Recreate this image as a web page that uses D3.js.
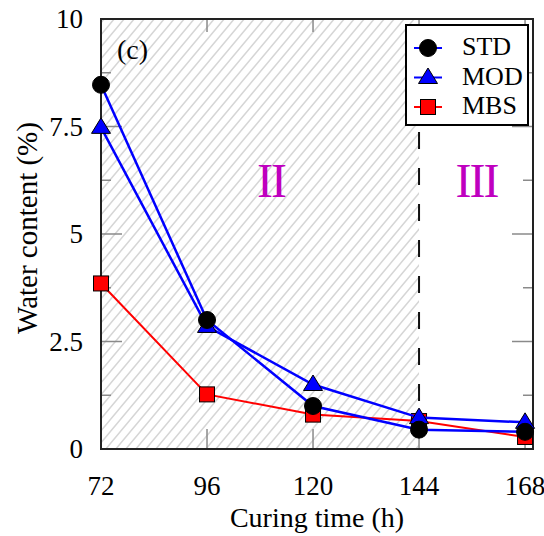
<!DOCTYPE html>
<html>
<head>
<meta charset="utf-8">
<script src="https://cdn.jsdelivr.net/npm/d3@7"></script>
<style>
	body { margin: 0; background: #fff; }
	text { font-family: "Liberation Serif", "Times New Roman", serif; }
</style>
</head>
<body>
<svg id="chart"></svg>
<script>
// data
var hours = [72, 96, 120, 144, 168];
var stdValues = [8.47, 3.0, 1.0, 0.45, 0.4];
var modValues = [7.48, 2.85, 1.5, 0.73, 0.62];
var mbsValues = [3.85, 1.27, 0.8, 0.65, 0.28];
var seriesNames = ["STD", "MOD", "MBS"];
var xTicks = [72, 96, 120, 144, 168];
var yTicks = [0, 2.5, 5, 7.5, 10];
var yTickLabels = ["0", "2.5", "5", "7.5", "10"];
var yMinorTicks = [1.25, 3.75, 6.25, 8.75];
var stageBounds = [72, 144];

var width = 544, height = 536;
var margins = {"top": 19, "right": 11, "bottom": 87, "left": 101};

var svg = d3.select("#chart")
	.attr("width", width)
	.attr("height", height);

var x = d3.scaleLinear()
	.domain([72, 169.8])
	.range([margins.left, width - margins.right]);
var y = d3.scaleLinear()
	.domain([0, 10])
	.range([height - margins.bottom, margins.top]);

var x0 = x.range()[0], x1 = x.range()[1];
var y0 = y.range()[0], y1 = y.range()[1];

// hatch pattern for stage II
var defs = svg.append("defs");
var pat = defs.append("pattern")
	.attr("id", "hatch")
	.attr("patternUnits", "userSpaceOnUse")
	.attr("width", 10)
	.attr("height", 12);
pat.append("path")
	.attr("d", "M-2.5,3 L2.5,-3 M0,12 L10,0 M7.5,15 L12.5,9")
	.attr("stroke", "#d6d6d6")
	.attr("stroke-width", 1.5);

svg.append("rect")
	.attr("x", x(stageBounds[0]))
	.attr("y", y1)
	.attr("width", x(stageBounds[1]) - x(stageBounds[0]))
	.attr("height", y0 - y1)
	.attr("fill", "url(#hatch)");

// ticks (inward, all four sides)
var tickColor = "#8a8a8a";
var gTicks = svg.append("g").attr("stroke", tickColor).attr("stroke-width", 1.5);
xTicks.forEach(function(t){
	gTicks.append("line").attr("x1", x(t)).attr("x2", x(t)).attr("y1", y0).attr("y2", y0 - 20);
	gTicks.append("line").attr("x1", x(t)).attr("x2", x(t)).attr("y1", y1).attr("y2", y1 + 13);
});
yTicks.forEach(function(t){
	gTicks.append("line").attr("x1", x0).attr("x2", x0 + 21).attr("y1", y(t)).attr("y2", y(t));
	gTicks.append("line").attr("x1", x1).attr("x2", x1 - 21).attr("y1", y(t)).attr("y2", y(t));
});
yMinorTicks.forEach(function(t){
	gTicks.append("line").attr("x1", x0).attr("x2", x0 + 10).attr("y1", y(t)).attr("y2", y(t));
	gTicks.append("line").attr("x1", x1).attr("x2", x1 - 10).attr("y1", y(t)).attr("y2", y(t));
});

// stage boundary
svg.append("line")
	.attr("x1", x(stageBounds[1])).attr("x2", x(stageBounds[1]))
	.attr("y1", y1).attr("y2", y0)
	.attr("stroke", "#111")
	.attr("stroke-width", 2)
	.attr("stroke-dasharray", "17,19")
	.attr("stroke-dashoffset", -5);

// frame
svg.append("rect")
	.attr("x", x0).attr("y", y1)
	.attr("width", x1 - x0).attr("height", y0 - y1)
	.attr("fill", "none")
	.attr("stroke", "#222")
	.attr("stroke-width", 2);

// tick labels
svg.append("g").selectAll("text")
	.data(xTicks)
	.enter().append("text")
	.attr("x", function(d){ return x(d); })
	.attr("y", y0 + 46)
	.attr("text-anchor", "middle")
	.attr("font-size", "27px")
	.text(function(d){ return d; });

svg.append("g").selectAll("text")
	.data(yTicks)
	.enter().append("text")
	.attr("x", x0 - 18)
	.attr("y", function(d){ return y(d) + 9; })
	.attr("text-anchor", "end")
	.attr("font-size", "27px")
	.text(function(d, i){ return yTickLabels[i]; });

// axis titles
svg.append("text")
	.attr("x", (x0 + x1) / 2)
	.attr("y", 527)
	.attr("text-anchor", "middle")
	.attr("font-size", "28px")
	.text("Curing time (h)");

svg.append("text")
	.attr("transform", "translate(37," + 228 + ") rotate(-90)")
	.attr("text-anchor", "middle")
	.attr("font-size", "29px")
	.text("Water content (%)");

svg.append("text")
	.attr("x", x0 + 16)
	.attr("y", 59)
	.attr("font-size", "28px")
	.text("(c)");

// stage labels
svg.append("text")
	.attr("x", x(110.5)).attr("y", y(5.86))
	.attr("text-anchor", "middle")
	.attr("font-size", "48px")
	.attr("letter-spacing", "-2px")
	.attr("fill", "#bf00bf")
	.text("II");
svg.append("text")
	.attr("x", x(157)).attr("y", y(5.86))
	.attr("text-anchor", "middle")
	.attr("font-size", "48px")
	.attr("letter-spacing", "-2px")
	.attr("fill", "#bf00bf")
	.text("III");

// markers
var markers = {
	"circle": function(g){
		g.append("circle").attr("r", 8.5).attr("fill", "#000").attr("stroke", "#000");
	},
	"triangle": function(g){
		g.append("path").attr("d", "M0,-9.5 L9.5,6 L-9.5,6 Z")
			.attr("fill", "#0000ff").attr("stroke", "#000").attr("stroke-width", 1);
	},
	"square": function(g){
		g.append("rect").attr("x", -7.5).attr("y", -7.5).attr("width", 15).attr("height", 15)
			.attr("fill", "#ff0000").attr("stroke", "#000").attr("stroke-width", 1);
	}
};

var series = [
	{"name": seriesNames[2], "values": mbsValues, "color": "#ff0000", "marker": "square", "lw": 2},
	{"name": seriesNames[1], "values": modValues, "color": "#0000ff", "marker": "triangle", "lw": 2.5},
	{"name": seriesNames[0], "values": stdValues, "color": "#0000ff", "marker": "circle", "lw": 2.5}
];

var line = d3.line()
	.x(function(d, i){ return x(hours[i]); })
	.y(function(d){ return y(d); });

series.forEach(function(s){
	var g = svg.append("g");
	g.append("path")
		.attr("d", line(s.values))
		.attr("fill", "none")
		.attr("stroke", s.color)
		.attr("stroke-width", s.lw);
	s.values.forEach(function(v, i){
		var m = g.append("g").attr("transform", "translate(" + x(hours[i]) + "," + y(v) + ")");
		markers[s.marker](m);
	});
});

// legend
var legend = svg.append("g");
legend.append("rect")
	.attr("x", 406).attr("y", 25)
	.attr("width", 122).attr("height", 100)
	.attr("fill", "#fff")
	.attr("stroke", "#000")
	.attr("stroke-width", 2);

var legendRows = series.slice().reverse();
legendRows.forEach(function(s, i){
	var ry = 48 + i * 29.5;
	legend.append("line")
		.attr("x1", 414).attr("x2", 442)
		.attr("y1", ry).attr("y2", ry)
		.attr("stroke", s.color)
		.attr("stroke-width", 2);
	var m = legend.append("g").attr("transform", "translate(428," + ry + ")");
	markers[s.marker](m);
	legend.append("text")
		.attr("x", 462)
		.attr("y", ry + 7)
		.attr("font-size", "26px")
		.text(s.name);
});
</script>
</body>
</html>
